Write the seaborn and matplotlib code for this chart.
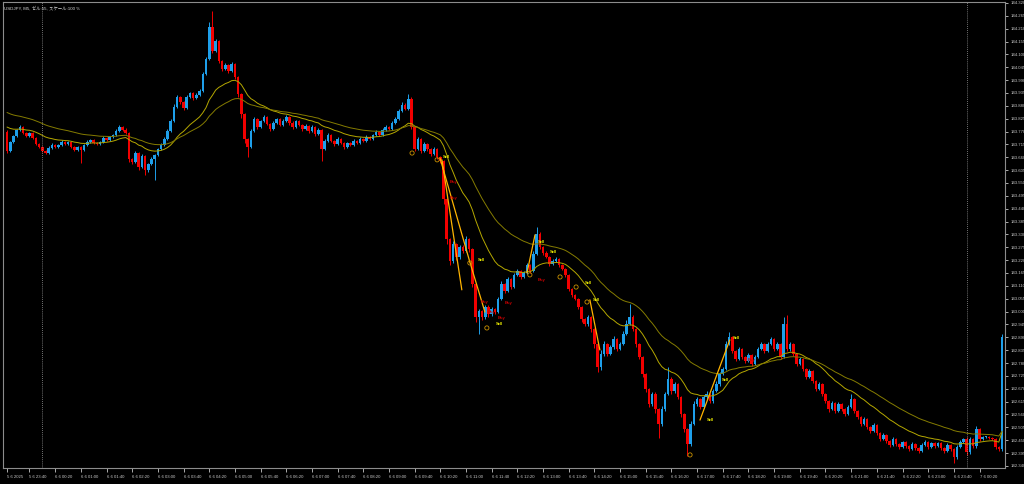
import numpy as np
import pandas as pd
import matplotlib
matplotlib.use("Agg")
import matplotlib.pyplot as plt
import seaborn as sns

# USDJPY M5 - precios de cierre (barra 0 = 5 jun 23:05)
first_open = 143.768
closes = [
    143.687, 143.725, 143.751, 143.777, 143.790, 143.764, 143.751, 143.764, 143.742, 143.717,
    143.704, 143.687, 143.678, 143.700, 143.713, 143.704, 143.713, 143.725, 143.717, 143.725,
    143.704, 143.691, 143.704, 143.691, 143.713, 143.725, 143.734, 143.721, 143.717, 143.725,
    143.742, 143.734, 143.747, 143.755, 143.772, 143.790, 143.777, 143.764, 143.653, 143.640,
    143.678, 143.618, 143.666, 143.606, 143.631, 143.653, 143.670, 143.695, 143.713, 143.738,
    143.772, 143.815, 143.875, 143.918, 143.896, 143.871, 143.918, 143.935, 143.914, 143.926,
    143.944, 144.016, 144.080, 144.217, 144.115, 144.157, 144.072, 144.038, 144.055, 144.029,
    144.059, 144.003, 143.931, 143.845, 143.738, 143.704, 143.772, 143.824, 143.790, 143.815,
    143.832, 143.802, 143.781, 143.807, 143.824, 143.798, 143.815, 143.832, 143.807, 143.790,
    143.815, 143.798, 143.781, 143.794, 143.772, 143.790, 143.760, 143.777, 143.695, 143.730,
    143.755, 143.730, 143.717, 143.738, 143.721, 143.704, 143.721, 143.713, 143.730, 143.721,
    143.738, 143.730, 143.747, 143.738, 143.755, 143.768, 143.755, 143.777, 143.790, 143.781,
    143.807, 143.824, 143.858, 143.884, 143.867, 143.909, 143.790, 143.695, 143.738, 143.687,
    143.717, 143.695, 143.674, 143.695, 143.661, 143.644, 143.482, 143.311, 143.216, 143.289,
    143.234, 143.276, 143.259, 143.311, 143.268, 143.118, 142.977, 143.003, 142.977, 143.020,
    142.990, 143.011, 142.998, 143.054, 143.118, 143.088, 143.139, 143.105, 143.157, 143.174,
    143.148, 143.165, 143.199, 143.174, 143.246, 143.332, 143.276, 143.251, 143.234, 143.204,
    143.216, 143.225, 143.199, 143.182, 143.157, 143.097, 143.071, 143.054, 143.020, 142.968,
    142.947, 142.977, 142.926, 142.861, 142.763, 142.819, 142.861, 142.819, 142.849, 142.883,
    142.840, 142.861, 142.904, 142.947, 142.977, 142.926, 142.861, 142.806, 142.733, 142.669,
    142.605, 142.648, 142.583, 142.519, 142.583, 142.648, 142.712, 142.660, 142.690, 142.635,
    142.562, 142.498, 142.434, 142.519, 142.605, 142.626, 142.592, 142.635, 142.648, 142.618,
    142.660, 142.690, 142.733, 142.755, 142.861, 142.891, 142.832, 142.797, 142.840, 142.806,
    142.789, 142.814, 142.776, 142.806, 142.840, 142.861, 142.832, 142.861, 142.883, 142.840,
    142.861, 142.806, 142.947, 142.840, 142.861, 142.819, 142.776, 142.797, 142.755, 142.720,
    142.746, 142.703, 142.669, 142.690, 142.648, 142.618, 142.583, 142.609, 142.575, 142.605,
    142.583, 142.562, 142.592, 142.626, 142.575, 142.549, 142.519, 142.541, 142.506, 142.489,
    142.515, 142.481, 142.455, 142.472, 142.447, 142.429, 142.455, 142.434, 142.421, 142.442,
    142.425, 142.412, 142.434, 142.417, 142.404, 142.429, 142.442, 142.421, 142.438, 142.425,
    142.438, 142.417, 142.404, 142.429, 142.412, 142.378, 142.421, 142.442, 142.455, 142.400,
    142.455, 142.425, 142.498, 142.455, 142.464, 142.464, 142.459, 142.455, 142.421, 142.412,
    142.891,
]

# mechas (en puntos, 0.001) por encima y por debajo del cuerpo
upper_wick = [
    8, 4, 6, 5, 9, 4, 3, 6, 3, 4, 3, 5, 4, 6, 8, 3, 5, 7, 4, 6,
    3, 4, 6, 3, 5, 7, 6, 4, 3, 6, 7, 4, 6, 5, 8, 9, 4, 6, 5, 4,
    10, 3, 8, 4, 6, 7, 5, 6, 9, 8, 7, 10, 12, 8, 5, 4, 10, 6, 5, 8,
    10, 9, 8, 20, 70, 10, 5, 6, 8, 4, 9, 5, 4, 3, 6, 3, 9, 8, 4, 6,
    7, 5, 4, 8, 6, 5, 7, 8, 4, 6, 6, 5, 4, 8, 3, 7, 4, 6, 5, 10,
    8, 5, 4, 7, 4, 3, 6, 5, 8, 4, 7, 5, 8, 4, 6, 8, 5, 9, 7, 4,
    8, 10, 9, 12, 6, 20, 8, 5, 10, 6, 9, 5, 4, 8, 5, 4, 6, 5, 4, 12,
    6, 10, 7, 12, 5, 4, 6, 10, 5, 8, 6, 8, 5, 10, 12, 6, 10, 5, 9, 8,
    5, 9, 10, 6, 12, 30, 8, 5, 6, 4, 8, 9, 5, 4, 6, 5, 4, 6, 5, 4,
    5, 10, 4, 5, 6, 15, 12, 6, 10, 12, 6, 10, 12, 15, 56, 8, 5, 4, 6, 5,
    4, 10, 6, 5, 12, 10, 50, 8, 10, 6, 5, 4, 5, 15, 12, 10, 6, 10, 12, 5,
    10, 12, 10, 8, 15, 20, 6, 5, 10, 5, 6, 10, 5, 9, 10, 8, 5, 10, 9, 5,
    8, 5, 30, 40, 10, 6, 5, 9, 5, 4, 8, 5, 4, 9, 6, 5, 4, 10, 5, 9,
    5, 4, 10, 20, 5, 6, 4, 8, 5, 4, 8, 5, 4, 7, 5, 4, 8, 5, 4, 6,
    5, 4, 7, 5, 4, 8, 7, 5, 6, 5, 6, 4, 5, 7, 5, 4, 8, 9, 6, 10,
    8, 6, 12, 5, 4, 5, 4, 5, 4, 5, 12,
]
lower_wick = [
    10, 6, 5, 4, 3, 6, 5, 4, 5, 6, 5, 4, 6, 5, 4, 6, 5, 4, 6, 5,
    6, 5, 4, 55, 5, 4, 3, 6, 5, 4, 3, 5, 4, 3, 4, 3, 5, 6, 15, 10,
    6, 12, 5, 20, 8, 6, 90, 5, 4, 3, 4, 5, 6, 4, 8, 10, 5, 4, 8, 6,
    5, 4, 6, 5, 8, 6, 7, 8, 5, 9, 6, 10, 15, 15, 15, 45, 6, 5, 8, 5,
    4, 6, 8, 5, 4, 6, 5, 4, 7, 8, 5, 6, 8, 5, 7, 5, 8, 6, 50, 5,
    4, 6, 8, 5, 6, 8, 5, 6, 4, 5, 4, 6, 5, 4, 5, 4, 6, 3, 4, 5,
    4, 3, 5, 4, 6, 4, 8, 10, 6, 8, 6, 8, 10, 6, 8, 10, 20, 20, 15, 10,
    12, 8, 10, 6, 12, 15, 20, 75, 12, 10, 12, 10, 8, 6, 5, 10, 6, 10, 5, 6,
    8, 5, 6, 10, 5, 6, 8, 10, 6, 8, 6, 5, 8, 6, 10, 8, 10, 6, 8, 12,
    10, 8, 12, 15, 20, 12, 8, 10, 6, 8, 10, 6, 5, 6, 5, 10, 12, 10, 12, 15,
    12, 10, 15, 60, 10, 8, 6, 12, 8, 10, 12, 15, 52, 10, 6, 8, 10, 6, 8, 10,
    8, 6, 8, 5, 6, 5, 10, 8, 6, 8, 10, 6, 8, 6, 5, 6, 8, 5, 6, 10,
    6, 8, 6, 10, 8, 10, 8, 6, 10, 8, 6, 8, 10, 6, 8, 10, 12, 6, 8, 6,
    8, 10, 6, 5, 8, 10, 8, 6, 8, 10, 6, 8, 10, 6, 8, 10, 6, 8, 10, 6,
    8, 10, 6, 8, 10, 6, 5, 8, 6, 8, 6, 8, 10, 6, 8, 25, 8, 6, 5, 12,
    10, 8, 10, 8, 5, 4, 5, 6, 8, 10, 8,
]

# valores iniciales de las medias moviles (vienen de barras anteriores)
ema_fast_seed = 143.80
ema_slow_seed = 143.86

# marcas de operaciones del EA: (barra, precio, texto)
trade_labels = [
    (134.9, 143.661, "Sell"), (137.0, 143.554, "Buy"), (137.0, 143.486, "Buy"),
    (145.8, 143.221, "Sell"), (146.7, 143.041, "Buy"), (148.9, 142.998, "Buy"),
    (152.0, 142.973, "Buy"), (151.4, 142.947, "Sell"), (154.2, 143.037, "Buy"),
    (164.5, 143.298, "Sell"), (168.2, 143.255, "Sell"), (164.5, 143.135, "Buy"),
    (179.1, 143.122, "Sell"), (181.6, 143.050, "Sell"), (217.4, 142.536, "Sell"),
    (221.8, 142.707, "Sell"), (225.5, 142.887, "Sell"), (229.9, 142.793, "Buy"),
]
trade_circles = [
    (126.2, 143.678), (134.0, 143.649), (144.2, 143.208), (149.5, 142.930),
    (162.9, 143.157), (172.3, 143.148), (177.3, 143.105), (180.7, 143.041),
    (212.8, 142.387),
]
# lineas de operaciones: (barra inicio, precio inicio, barra fin, precio fin)
trade_lines = [
    (134.9, 143.657, 144.2, 143.212), (135.5, 143.649, 141.7, 143.093),
    (144.2, 143.212, 148.9, 142.998), (162.0, 143.165, 164.5, 143.328),
    (181.6, 143.050, 184.7, 142.836), (215.9, 142.536, 225.2, 142.879),
]

ytick_labels = [
    "144.320", "144.265", "144.210", "144.155", "144.100", "144.045", "143.990",
    "143.935", "143.880", "143.825", "143.770", "143.715", "143.660", "143.605",
    "143.550", "143.495", "143.440", "143.385", "143.330", "143.275", "143.220",
    "143.165", "143.110", "143.055", "143.000", "142.945", "142.890", "142.835",
    "142.780", "142.725", "142.670", "142.615", "142.560", "142.505", "142.450",
    "142.395", "142.340",
]
xtick_bars = [0] + list(range(7, 304, 8))
xtick_labels = [
    "5 6 2025", "5 6 23:40", "6 6 00:20", "6 6 01:00", "6 6 01:40", "6 6 02:20",
    "6 6 03:00", "6 6 03:40", "6 6 04:20", "6 6 05:00", "6 6 05:40", "6 6 06:20",
    "6 6 07:00", "6 6 07:40", "6 6 08:20", "6 6 09:00", "6 6 09:40", "6 6 10:20",
    "6 6 11:00", "6 6 11:40", "6 6 12:20", "6 6 13:00", "6 6 13:40", "6 6 14:20",
    "6 6 15:00", "6 6 15:40", "6 6 16:20", "6 6 17:00", "6 6 17:40", "6 6 18:20",
    "6 6 19:00", "6 6 19:40", "6 6 20:20", "6 6 21:00", "6 6 21:40", "6 6 22:20",
    "6 6 23:00", "6 6 23:40", "7 6 00:20",
]
day_separators = [11, 299]
title = "USDJPY, M5, ゼル:55, スケール:100 %"


def ema(values, period, seed):
    alpha = 2.0 / (period + 1)
    out, prev = [], seed
    for v in values:
        prev = prev + alpha * (v - prev)
        out.append(prev)
    return np.array(out)


df = pd.DataFrame({"close": closes})
df["bar"] = np.arange(len(df))
df["open"] = [first_open] + closes[:-1]
df["high"] = df[["open", "close"]].max(axis=1) + np.array(upper_wick) / 1000
df["low"] = df[["open", "close"]].min(axis=1) - np.array(lower_wick) / 1000
df["ema_fast"] = ema(closes, 20, ema_fast_seed)
df["ema_slow"] = ema(closes, 40, ema_slow_seed)
up = df["close"] >= df["open"]

sns.set_theme(style="dark", rc={
    "axes.facecolor": "black", "figure.facecolor": "black",
    "axes.edgecolor": "#8c8c8c", "xtick.color": "#c8c8c8",
    "ytick.color": "#c8c8c8", "text.color": "#d0d0d0",
})
plt.rcParams["font.family"] = ["Liberation Sans", "Noto Sans CJK JP", "DejaVu Sans"]

W, H = 1024, 484
fig = plt.figure(figsize=(W / 100, H / 100), dpi=100)
ax = fig.add_axes([3 / W, (H - 468) / H, 1002 / W, 466 / H])

bull, bear = "#1E9FEA", "#F20000"
colors = np.where(up, bull, bear)

ax.vlines(df["bar"], df["low"], df["high"], colors=colors, lw=0.7)
body_bottom = df[["open", "close"]].min(axis=1)
body_height = (df["close"] - df["open"]).abs().clip(lower=0.002)
ax.bar(df["bar"], body_height, bottom=body_bottom, width=0.8, color=colors, linewidth=0)

sns.lineplot(data=df, x="bar", y="ema_fast", ax=ax, color="#B5A800", lw=0.7, legend=False)
sns.lineplot(data=df, x="bar", y="ema_slow", ax=ax, color="#857C00", lw=0.7, legend=False)

# operaciones
for x0, y0, x1, y1 in trade_lines:
    ax.plot([x0, x1], [y0, y1], color="#FFB400", lw=0.9, zorder=4)
cx, cy = zip(*trade_circles)
ax.scatter(cx, cy, s=9, facecolors="none", edgecolors="#C89000", linewidths=0.6, zorder=5)
for bx, py, txt in trade_labels:
    col = "#E8E800" if txt == "Sell" else "#C80000"
    ax.text(bx + 0.8, py, txt, fontsize=3.0, color=col, va="center", ha="left",
            fontweight="bold", zorder=6)

for sep in day_separators:
    ax.axvline(sep, color="#9a9a9a", lw=0.6, ls=(0, (1, 1.5)))

ax.set_xlim(-1.25, len(df) - 0.07)
ax.set_ylim(142.331, 144.324)

ax.set_yticks([float(t) for t in ytick_labels])
ax.set_yticklabels(ytick_labels)
ax.yaxis.tick_right()
ax.tick_params(axis="y", which="major", right=True, left=False, labelright=True,
               labelleft=False, length=2.5, width=0.6, pad=1.2, labelsize=3.05,
               direction="out")

ax.set_xticks(xtick_bars)
ax.set_xticklabels(xtick_labels, ha="left")
ax.tick_params(axis="x", which="major", bottom=True, length=3, width=0.6, pad=2,
               labelsize=3.1, direction="out")
ax.set_xlabel("")
ax.set_ylabel("")
ax.grid(False)
for s in ax.spines.values():
    s.set_visible(True)
    s.set_color("#8c8c8c")
    s.set_linewidth(0.8)

fig.text(4 / W, 1 - 8 / H, title, fontsize=3.2, color="#d8d8d8", va="center", ha="left")

fig.savefig("out.png", dpi=100, facecolor="black")
